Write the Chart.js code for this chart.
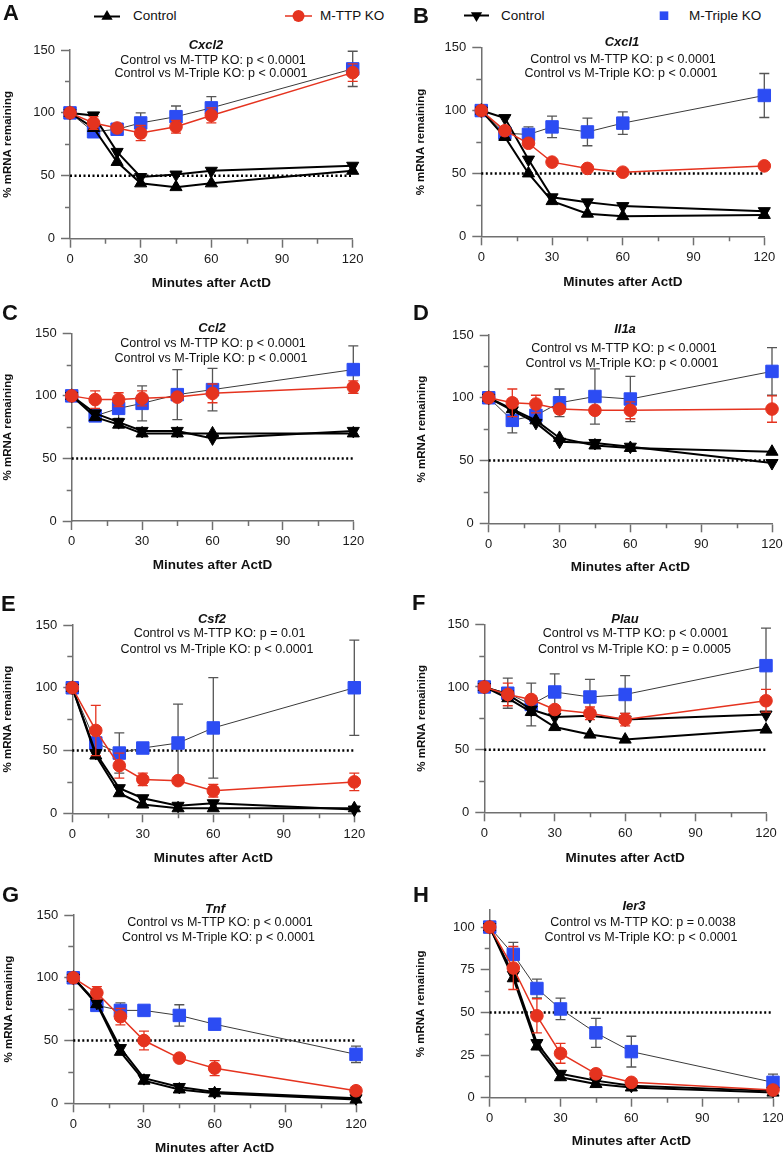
<!DOCTYPE html>
<html>
<head>
<meta charset="utf-8">
<title>mRNA remaining after ActD</title>
<script src="https://cdn.jsdelivr.net/npm/chart.js@4.4.1/dist/chart.umd.min.js"></script>
<style>
  html, body { margin: 0; padding: 0; background: #fff; }
  #figure { position: relative; width: 783px; height: 1153px; overflow: hidden; font-family: 'Liberation Sans', Arial, sans-serif; color: #111; }
  #figure canvas { position: absolute; }
  .txt { position: absolute; white-space: nowrap; line-height: 1; transform: translate(-50%, -50%); }
  .gene { font-size: 13px; font-weight: bold; font-style: italic; }
  .stat { font-size: 12.5px; }
  .letter { position: absolute; font-size: 22px; font-weight: bold; line-height: 22px; }
  .leg { position: absolute; font-size: 13.5px; line-height: 1; white-space: nowrap; transform: translateY(-50%); }
</style>
</head>
<body>
<div id="figure"></div>
<script>
// data
const MINUTES = [0, 10, 20, 30, 45, 60, 120];
const GENES = ['Cxcl2', 'Cxcl1', 'Ccl2', 'Il1a', 'Csf2', 'Plau', 'Tnf', 'Ier3'];
const LETTERS = ['A', 'B', 'C', 'D', 'E', 'F', 'G', 'H'];
const TTP_P = ['p < 0.0001', 'p < 0.0001', 'p < 0.0001', 'p < 0.0001', 'p = 0.01', 'p < 0.0001', 'p < 0.0001', 'p = 0.0038'];
const TRIPLE_P = ['p < 0.0001', 'p < 0.0001', 'p < 0.0001', 'p < 0.0001', 'p < 0.0001', 'p = 0.0005', 'p < 0.0001', 'p < 0.0001'];

// Control (▲), paired with M-TTP KO
const CTRL_UP = [
    [100, 88, 61, 44, 41, 44, 54],
    [100, 79, 50, 28, 18, 16, 17],
    [100, 83, 77, 70, 70, 70, 70],
    [100, 91, 82, 68, 62, 60, 57],
    [100, 46, 16, 7, 4, 4, 4],
    [100, 91, 80, 68, 62, 58, 66],
    [100, 79, 41, 18, 11, 8, 3],
    [100, 70, 30, 12, 8, 6, 3]
];
// Control (▼), paired with M-Triple KO
const CTRL_DOWN = [
    [100, 98, 69, 49, 51, 54, 58],
    [100, 94, 61, 31, 27, 24, 20],
    [100, 86, 79, 72, 72, 66, 72],
    [100, 90, 80, 65, 64, 61, 48],
    [100, 48, 20, 12, 6, 8, 3],
    [100, 94, 82, 76, 77, 74, 78],
    [100, 80, 44, 20, 13, 9, 4],
    [100, 72, 32, 14, 10, 7, 4]
];
const TTP_KO = [
    [100, 92, 88, 84, 89, 98, 132],
    [100, 84, 74, 59, 54, 51, 56],
    [100, 97, 97, 98, 99, 102, 107],
    [100, 96, 95, 91, 90, 90, 91],
    [100, 66, 38, 27, 26, 18, 25],
    [100, 94, 90, 82, 79, 74, 89],
    [100, 88, 69, 50, 36, 28, 10],
    [100, 76, 48, 26, 14, 9, 4.5]
];
const TTP_KO_ERR = [
    [0, 5, 2, 6, 5, 6, 7],
    [0, 0, 0, 0, 0, 0, 0],
    [0, 7, 5.5, 6, 2, 7.5, 5],
    [0, 11, 7, 3, 3, 6.7, 10.5],
    [0, 20, 10, 5, 2, 5, 7],
    [0, 9, 3, 3, 5, 5, 9],
    [0, 5, 6.5, 7.5, 2, 6, 2],
    [0, 12.6, 10, 5.8, 2, 2, 1]
];
const TRIPLE_KO = [
    [100, 85, 87, 92, 97, 104, 135],
    [100, 82, 81, 87, 83, 90, 112],
    [100, 84, 90, 94, 101, 105, 121],
    [100, 82, 86, 96, 101, 99, 121],
    [100, 56, 48, 52, 56, 68, 100],
    [100, 95, 86, 96, 92, 94, 117],
    [100, 78, 74, 74, 70, 63, 39],
    [100, 84, 64, 52, 38, 27, 9]
];
const TRIPLE_KO_ERR = [
    [0, 3, 2, 8, 8.5, 9, 14],
    [0, 3, 6, 8.5, 11, 9, 17.5],
    [0, 4, 8, 14, 20, 17, 19],
    [0, 10, 5, 11, 22, 18, 19],
    [0, 8, 16, 3, 31, 40, 38],
    [0, 12, 17, 14.5, 14, 15, 30],
    [0, 3, 6, 3, 8.5, 3, 6.5],
    [0, 7, 5.5, 6.3, 8.5, 9, 4.8]
];
const HALF_X = [0, 120];
const HALF_Y = [50, 50];

const X_TICKS = [0, 30, 60, 90, 120];
const X_MINOR = [15, 45, 75, 105];
const Y_MAX = [150, 150, 150, 150, 150, 150, 150, 110];
const Y_TICKS = [[0, 50, 100, 150], [0, 25, 50, 75, 100]];
const Y_MINOR = [[25, 75, 125], [12.5, 37.5, 62.5, 87.5]];

// styles
const RED = '#e5331f';
const BLUE = '#2c4cf3';
const BLACK = '#000';
const AXIS_COLOR = '#707070';
const FONT = "'Liberation Sans', Arial, sans-serif";
const Y_TITLE_SIZE = 11.5;
const X_TITLE_SIZE = 13.5;

// layout (page pixels)
const PANEL_BOX = [
    { cellLeft: 0, cellTop: 0, yTitleX: 8, px0: 70, px1: 352.7, pyTop: 50, pyBot: 238.7, xTitleY: 281 },
    { cellLeft: 392, cellTop: 0, yTitleX: 421, px0: 481.3, px1: 764.3, pyTop: 47.7, pyBot: 236.3, xTitleY: 280 },
    { cellLeft: 0, cellTop: 290, yTitleX: 8, px0: 71.7, px1: 353.3, pyTop: 333.3, pyBot: 521, xTitleY: 563.5 },
    { cellLeft: 392, cellTop: 290, yTitleX: 422, px0: 488.7, px1: 772, pyTop: 335, pyBot: 523.3, xTitleY: 565.7 },
    { cellLeft: 0, cellTop: 580, yTitleX: 8, px0: 72.3, px1: 354.3, pyTop: 625, pyBot: 813.3, xTitleY: 856 },
    { cellLeft: 392, cellTop: 580, yTitleX: 422, px0: 484.3, px1: 766, pyTop: 624.3, pyBot: 812.3, xTitleY: 856 },
    { cellLeft: 0, cellTop: 870, yTitleX: 9, px0: 73.3, px1: 356, pyTop: 915, pyBot: 1103.3, xTitleY: 1146 },
    { cellLeft: 392, cellTop: 870, yTitleX: 421, px0: 489.7, px1: 773, pyTop: 910, pyBot: 1097.7, xTitleY: 1139 }
];
const LETTER_POS = [[3, 2], [413, 5], [2, 302], [413, 302], [1, 593], [412, 592], [2, 884], [413, 884]];
const GENE_POS = [[206, 44], [622, 41], [212, 326.5], [625, 328], [212, 618], [625, 618], [215, 908], [634, 904.5]];
const STAT1_POS = [[213, 60], [623, 59], [213, 343.3], [624, 348.3], [219.5, 633.3], [635.5, 633], [220, 922], [643, 922]];
const STAT2_POS = [[211, 73], [621, 73], [211, 358.3], [622, 362.7], [217, 649], [634.5, 649], [218.5, 937], [641, 937]];
const LEGEND_MARKS = [
    [{ kind: 'up', x1: 94, x2: 120, y: 16.5 }, { kind: 'circle', x1: 285, x2: 312, y: 16 }],
    [{ kind: 'down', x1: 464, x2: 489, y: 15.5 }, { kind: 'square', x1: 664, x2: 664, y: 15.7 }]
];
const LEGEND_TEXT = [['Control', 133, 16], ['M-TTP KO', 320, 16], ['Control', 501, 15.5], ['M-Triple KO', 689, 15.5]];

const fig = document.getElementById('figure');

// error bars drawn just before each dataset, using the chart's own y scale
const errorBarPlugin = {
    id: 'errorBars',
    beforeDatasetDraw(chart, args) {
        const ds = chart.data.datasets[args.index];
        if (!ds.errors) return;
        const ctx = chart.ctx;
        const y = chart.scales.y;
        ctx.save();
        ctx.strokeStyle = ds.errorColor;
        ctx.lineWidth = 1.3;
        args.meta.data.forEach((pt, i) => {
            const e = ds.errors[i];
            if (!e) return;
            const v = ds.data[i].y;
            const hi = y.getPixelForValue(v + e);
            const lo = y.getPixelForValue(v - e);
            ctx.beginPath();
            ctx.moveTo(pt.x, hi); ctx.lineTo(pt.x, lo);
            ctx.moveTo(pt.x - 5, hi); ctx.lineTo(pt.x + 5, hi);
            ctx.moveTo(pt.x - 5, lo); ctx.lineTo(pt.x + 5, lo);
            ctx.stroke();
        });
        ctx.restore();
    }
};

const minorTickPlugin = {
    id: 'minorTicks',
    beforeDatasetsDraw(chart, args, opts) {
        const { ctx, chartArea, scales } = chart;
        ctx.save();
        ctx.strokeStyle = AXIS_COLOR;
        ctx.lineWidth = 1.5;
        ctx.beginPath();
        opts.x.forEach(v => {
            const px = Math.round(scales.x.getPixelForValue(v)) + 0.5;
            ctx.moveTo(px, chartArea.bottom); ctx.lineTo(px, chartArea.bottom + 5);
        });
        opts.y.forEach(v => {
            const py = Math.round(scales.y.getPixelForValue(v)) + 0.5;
            ctx.moveTo(chartArea.left - 5, py); ctx.lineTo(chartArea.left, py);
        });
        ctx.stroke();
        ctx.restore();
    }
};

// legend symbols for panels A and B
function drawTriangle(ctx, x, y, r, down) {
    const s = down ? -1 : 1;
    ctx.beginPath();
    ctx.moveTo(x, y - s * r);
    ctx.lineTo(x + r * 0.866, y + s * r * 0.5);
    ctx.lineTo(x - r * 0.866, y + s * r * 0.5);
    ctx.closePath();
    ctx.fill();
}
const legendMarkPlugin = {
    id: 'legendMarks',
    afterDraw(chart, args, opts) {
        const ctx = chart.ctx;
        ctx.save();
        opts.items.forEach(it => {
            const x1 = it.x1 - opts.dx, x2 = it.x2 - opts.dx, y = it.y - opts.dy, cx = (x1 + x2) / 2;
            if (it.kind === 'square') {
                ctx.fillStyle = BLUE;
                ctx.fillRect(cx - 4.3, y - 4.3, 8.6, 8.6);
                return;
            }
            const col = it.kind === 'circle' ? RED : BLACK;
            ctx.strokeStyle = col;
            ctx.fillStyle = col;
            ctx.lineWidth = it.kind === 'circle' ? 1.5 : 2;
            ctx.beginPath(); ctx.moveTo(x1, y); ctx.lineTo(x2, y); ctx.stroke();
            if (it.kind === 'circle') {
                ctx.beginPath(); ctx.arc(cx, y, 6, 0, Math.PI * 2); ctx.fill();
            } else {
                drawTriangle(ctx, cx, y, 6.5, it.kind === 'down');
            }
        });
        ctx.restore();
    }
};

function toPoints(vals) {
    return MINUTES.map((m, i) => ({ x: m, y: vals[i] }));
}

function buildDatasets(p) {
    const common = { clip: false, tension: 0, fill: false };
    return [
        { ...common, label: 'M-TTP KO', data: toPoints(TTP_KO[p]), errors: TTP_KO_ERR[p], errorColor: RED,
          borderColor: RED, backgroundColor: RED, borderWidth: 1.5, pointStyle: 'circle', pointRadius: 6.3, pointBorderWidth: 1, order: 0 },
        { ...common, label: 'Control', data: toPoints(CTRL_UP[p]),
          borderColor: BLACK, backgroundColor: BLACK, borderWidth: 2, pointStyle: 'triangle', pointRadius: 7, pointBorderWidth: 1, order: 1 },
        { ...common, label: 'Control', data: toPoints(CTRL_DOWN[p]),
          borderColor: BLACK, backgroundColor: BLACK, borderWidth: 2, pointStyle: 'triangle', pointRotation: 180, pointRadius: 7, pointBorderWidth: 1, order: 2 },
        { ...common, label: 'M-Triple KO', data: toPoints(TRIPLE_KO[p]), errors: TRIPLE_KO_ERR[p], errorColor: '#555',
          borderColor: '#3a3a3a', borderWidth: 1, pointBackgroundColor: BLUE, pointBorderColor: BLUE, pointStyle: 'rect', pointRadius: 8.8, pointBorderWidth: 1, order: 3 },
        { ...common, label: '50%', data: HALF_X.map((x, i) => ({ x: x, y: HALF_Y[i] })),
          borderColor: BLACK, borderWidth: 2.5, borderDash: [2, 2.5], pointRadius: 0, order: 4 }
    ];
}

function addText(cls, text, pos) {
    const d = document.createElement('div');
    d.className = 'txt ' + cls;
    d.textContent = text;
    d.style.left = pos[0] + 'px';
    d.style.top = pos[1] + 'px';
    fig.appendChild(d);
}

function makePanel(p) {
    const box = PANEL_BOX[p];
    const cellW = box.cellLeft === 0 ? 392 : 410;
    const canvasH = Math.ceil(box.xTitleY + X_TITLE_SIZE * 0.6 - box.cellTop) + 1;
    const canvas = document.createElement('canvas');
    canvas.width = cellW;
    canvas.height = canvasH;
    canvas.style.left = box.cellLeft + 'px';
    canvas.style.top = box.cellTop + 'px';
    canvas.style.width = cellW + 'px';
    canvas.style.height = canvasH + 'px';
    fig.appendChild(canvas);

    const titleLeft = box.yTitleX - Y_TITLE_SIZE * 0.6;
    const tickSet = Y_MAX[p] === 110 ? 1 : 0;
    const axisTicks = { color: '#1a1a1a', font: { family: FONT, size: 13 } };
    const axisGrid = { drawOnChartArea: false, drawTicks: true, tickLength: 9, tickWidth: 1.5, tickColor: AXIS_COLOR, color: AXIS_COLOR };
    const axisBorder = { display: true, color: AXIS_COLOR, width: 1.5 };

    new Chart(canvas.getContext('2d'), {
        type: 'line',
        data: { datasets: buildDatasets(p) },
        options: {
            responsive: false,
            animation: false,
            events: [],
            layout: { padding: { left: titleLeft - box.cellLeft, top: box.pyTop - box.cellTop, right: box.cellLeft + cellW - box.px1, bottom: 0 } },
            scales: {
                x: {
                    type: 'linear', min: 0, max: 120,
                    afterBuildTicks: s => { s.ticks = X_TICKS.map(v => ({ value: v })); },
                    afterFit: s => { s.height = canvasH - (box.pyBot - box.cellTop); },
                    ticks: { ...axisTicks, padding: 4, maxRotation: 0 },
                    grid: axisGrid, border: axisBorder,
                    title: { display: true, text: 'Minutes after ActD', color: '#111', padding: 0, font: { family: FONT, size: X_TITLE_SIZE, weight: 'bold' } }
                },
                y: {
                    type: 'linear', min: 0, max: Y_MAX[p],
                    afterBuildTicks: s => { s.ticks = Y_TICKS[tickSet].map(v => ({ value: v })); },
                    afterFit: s => { s.width = box.px0 - titleLeft; },
                    ticks: { ...axisTicks, padding: 6 },
                    grid: axisGrid, border: axisBorder,
                    title: { display: true, text: '% mRNA remaining', color: '#111', padding: 0, font: { family: FONT, size: Y_TITLE_SIZE, weight: 'bold' } }
                }
            },
            plugins: {
                legend: { display: false },
                tooltip: { enabled: false },
                minorTicks: { x: X_MINOR, y: Y_MINOR[tickSet] },
                legendMarks: LEGEND_MARKS[p] ? { items: LEGEND_MARKS[p], dx: box.cellLeft, dy: box.cellTop } : false
            }
        },
        plugins: [errorBarPlugin, minorTickPlugin, legendMarkPlugin]
    });

    const letter = document.createElement('div');
    letter.className = 'letter';
    letter.textContent = LETTERS[p];
    letter.style.left = LETTER_POS[p][0] + 'px';
    letter.style.top = LETTER_POS[p][1] + 'px';
    fig.appendChild(letter);

    addText('gene', GENES[p], GENE_POS[p]);
    addText('stat', 'Control vs M-TTP KO: ' + TTP_P[p], STAT1_POS[p]);
    addText('stat', 'Control vs M-Triple KO: ' + TRIPLE_P[p], STAT2_POS[p]);
}

LEGEND_TEXT.forEach(([text, x, y]) => {
    const d = document.createElement('div');
    d.className = 'leg';
    d.textContent = text;
    d.style.left = x + 'px';
    d.style.top = y + 'px';
    fig.appendChild(d);
});

for (let p = 0; p < PANEL_BOX.length; p++) makePanel(p);
</script>
</body>
</html>
